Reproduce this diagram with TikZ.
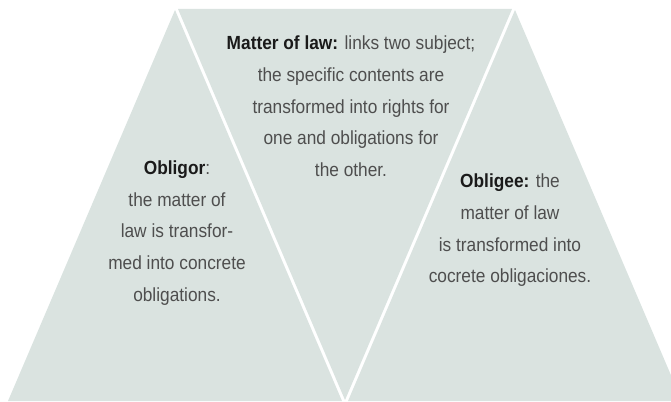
\documentclass[tikz,border=0pt]{standalone}
\usepackage{fontspec}
\setmainfont[FakeStretch=0.91]{Liberation Sans}
\definecolor{trifill}{HTML}{DAE3E0}
\definecolor{txtgray}{HTML}{4E4E4E}
\definecolor{txtdark}{HTML}{1A1A1A}
\newcommand\kw[1]{\textcolor{txtdark}{\bfseries #1}}
\begin{document}
\begin{tikzpicture}[x=1pt,y=-1pt]
\tikzset{
  tri/.style={fill=trifill},
  txt/.style={align=center, font=\fontsize{19}{31.7}\selectfont, text=txtgray, inner sep=0pt}
}
\useasboundingbox (0,0) rectangle (671,401);
\begin{scope}
\clip (0,0) rectangle (671,401);
\fill[tri] (175,10) -- (342,401) -- (8,401) -- cycle;
\fill[tri] (178,9) -- (512,9) -- (345,400) -- cycle;
\fill[tri] (515,10) -- (682,401) -- (348,401) -- cycle;
\end{scope}
\node[txt] (mid) at (351,106.5) {\kw{Matter of law:} links two subject;\\the specific contents are\\transformed into rights for\\one and obligations for\\the other.};
\node[txt] (left) at (177,233) {\kw{Obligor}:\\the matter of\\law is transfor-\\med into concrete\\obligations.};
\node[txt] (right) at (510,230.5) {\kw{Obligee:} the\\matter of law\\is transformed into\\cocrete obligaciones.};
\end{tikzpicture}
\end{document}
